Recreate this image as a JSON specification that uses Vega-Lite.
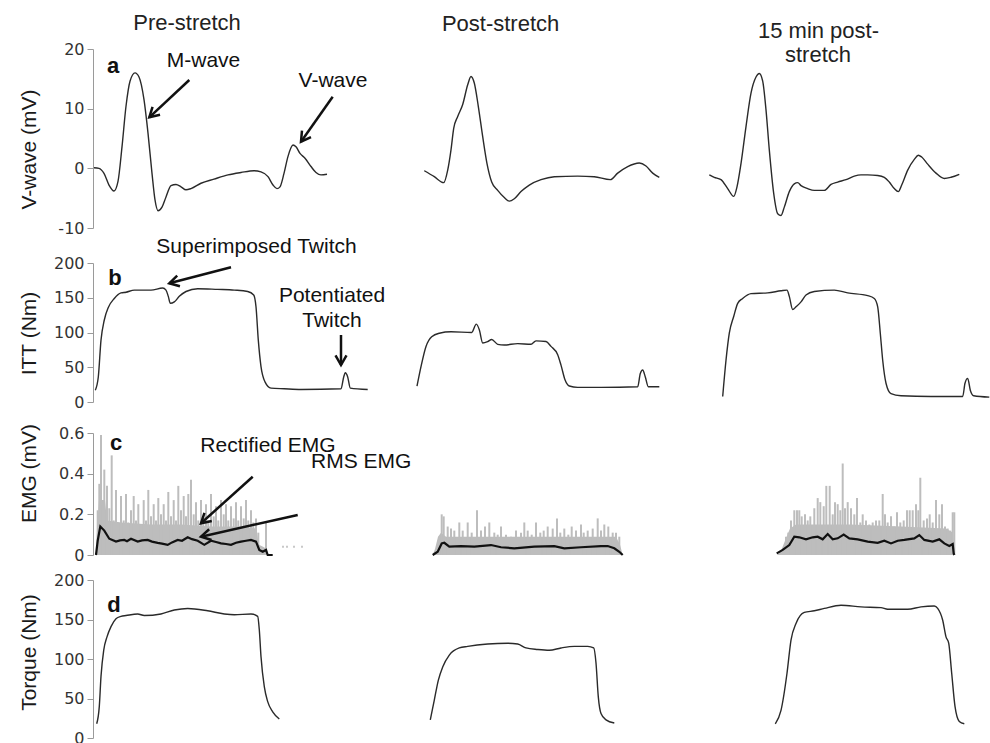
{
  "$schema": "https://vega.github.io/schema/vega-lite/v6.json",
  "padding": {"left": 17, "top": 12, "right": 0, "bottom": 0},
  "bounds": "flush",
  "spacing": 35,
  "config": {
    "view": {"stroke": null},
    "axis": {"domainColor": "#9a9a9a", "tickColor": "#9a9a9a", "domainWidth": 1, "tickWidth": 1, "tickSize": 6, "labelPadding": 3, "labelFont": "DejaVu Sans", "labelFontSize": 16, "labelColor": "#333333", "titleFont": "Liberation Sans", "titleFontSize": 21, "titleFontWeight": "normal", "titleColor": "#1a1a1a", "grid": false, "titleBaseline": "alphabetic", "titleX": -58}
  },
  "datasets": {
    "vwave": [
      {"panel":"pre","t":93,"v":0.1},{"panel":"pre","t":98,"v":0.0},{"panel":"pre","t":103,"v":-0.85},{"panel":"pre","t":108,"v":-2.8},{"panel":"pre","t":113,"v":-3.8},{"panel":"pre","t":117,"v":-2.2},{"panel":"pre","t":121,"v":3.6},{"panel":"pre","t":125,"v":10.4},{"panel":"pre","t":129,"v":14.6},{"panel":"pre","t":134,"v":16.0},{"panel":"pre","t":138,"v":15.3},{"panel":"pre","t":143,"v":11.5},{"panel":"pre","t":147,"v":5.9},{"panel":"pre","t":151,"v":-0.85},{"panel":"pre","t":154,"v":-5.3},{"panel":"pre","t":157,"v":-7.1},{"panel":"pre","t":161,"v":-6.5},{"panel":"pre","t":165,"v":-4.8},{"panel":"pre","t":170,"v":-2.9},{"panel":"pre","t":175,"v":-2.7},{"panel":"pre","t":180,"v":-3.1},{"panel":"pre","t":185,"v":-3.6},{"panel":"pre","t":190,"v":-3.4},{"panel":"pre","t":200,"v":-2.5},{"panel":"pre","t":213,"v":-1.8},{"panel":"pre","t":227,"v":-1.1},{"panel":"pre","t":240,"v":-0.7},{"panel":"pre","t":253,"v":-0.4},{"panel":"pre","t":260,"v":-0.6},{"panel":"pre","t":267,"v":-1.4},{"panel":"pre","t":272,"v":-2.8},{"panel":"pre","t":276,"v":-3.4},{"panel":"pre","t":279,"v":-3.1},{"panel":"pre","t":283,"v":-0.85},{"panel":"pre","t":287,"v":2.0},{"panel":"pre","t":292,"v":3.9},{"panel":"pre","t":295,"v":3.6},{"panel":"pre","t":299,"v":2.5},{"panel":"pre","t":304,"v":1.7},{"panel":"pre","t":310,"v":0.3},{"panel":"pre","t":315,"v":-0.7},{"panel":"pre","t":320,"v":-1.1},{"panel":"pre","t":326,"v":-1.0},
      {"panel":"post","t":423.3,"v":-0.4},{"panel":"post","t":433.3,"v":-1.4},{"panel":"post","t":442.7,"v":-2.4},{"panel":"post","t":446.7,"v":-0.3},{"panel":"post","t":450,"v":3.1},{"panel":"post","t":452.7,"v":6.7},{"panel":"post","t":456.7,"v":8.7},{"panel":"post","t":461.7,"v":10.7},{"panel":"post","t":466.7,"v":14.0},{"panel":"post","t":470,"v":15.4},{"panel":"post","t":473.3,"v":14.3},{"panel":"post","t":477.3,"v":10.4},{"panel":"post","t":481.7,"v":5.3},{"panel":"post","t":486,"v":0.8},{"panel":"post","t":490.7,"v":-2.3},{"panel":"post","t":496.7,"v":-3.7},{"panel":"post","t":503.3,"v":-4.9},{"panel":"post","t":508.3,"v":-5.5},{"panel":"post","t":513.3,"v":-5.1},{"panel":"post","t":520,"v":-3.9},{"panel":"post","t":528.3,"v":-2.8},{"panel":"post","t":540,"v":-1.9},{"panel":"post","t":553.3,"v":-1.4},{"panel":"post","t":576.7,"v":-1.3},{"panel":"post","t":593.3,"v":-1.4},{"panel":"post","t":609.3,"v":-1.9},{"panel":"post","t":616.7,"v":-0.8},{"panel":"post","t":626.7,"v":0.3},{"panel":"post","t":638.3,"v":0.9},{"panel":"post","t":645,"v":0.4},{"panel":"post","t":651.7,"v":-0.8},{"panel":"post","t":658.3,"v":-1.5},
      {"panel":"min15","t":708.3,"v":-1.1},{"panel":"min15","t":713.3,"v":-1.5},{"panel":"min15","t":720,"v":-1.9},{"panel":"min15","t":726.7,"v":-3.4},{"panel":"min15","t":732.7,"v":-4.7},{"panel":"min15","t":736,"v":-3.1},{"panel":"min15","t":740,"v":0.8},{"panel":"min15","t":745,"v":7.0},{"panel":"min15","t":750,"v":12.6},{"panel":"min15","t":755,"v":15.3},{"panel":"min15","t":758.3,"v":15.9},{"panel":"min15","t":761.7,"v":14.6},{"panel":"min15","t":765,"v":9.8},{"panel":"min15","t":768.3,"v":3.1},{"panel":"min15","t":772.7,"v":-4.2},{"panel":"min15","t":776.7,"v":-7.6},{"panel":"min15","t":780,"v":-7.9},{"panel":"min15","t":783.3,"v":-6.5},{"panel":"min15","t":788.3,"v":-3.9},{"panel":"min15","t":793.3,"v":-2.6},{"panel":"min15","t":796.7,"v":-2.4},{"panel":"min15","t":800,"v":-2.9},{"panel":"min15","t":806.7,"v":-3.4},{"panel":"min15","t":813.3,"v":-3.7},{"panel":"min15","t":823.3,"v":-3.7},{"panel":"min15","t":830,"v":-2.7},{"panel":"min15","t":836.7,"v":-2.3},{"panel":"min15","t":845,"v":-1.9},{"panel":"min15","t":853.3,"v":-1.3},{"panel":"min15","t":860,"v":-1.1},{"panel":"min15","t":866.7,"v":-1.1},{"panel":"min15","t":876.7,"v":-1.2},{"panel":"min15","t":883.3,"v":-1.5},{"panel":"min15","t":888.3,"v":-2.3},{"panel":"min15","t":893.3,"v":-3.4},{"panel":"min15","t":897.3,"v":-3.9},{"panel":"min15","t":900.7,"v":-2.8},{"panel":"min15","t":906.7,"v":-0.3},{"panel":"min15","t":913.3,"v":1.5},{"panel":"min15","t":917.3,"v":2.2},{"panel":"min15","t":920.7,"v":1.9},{"panel":"min15","t":926.7,"v":0.7},{"panel":"min15","t":935,"v":-0.8},{"panel":"min15","t":943.3,"v":-1.7},{"panel":"min15","t":950,"v":-1.5},{"panel":"min15","t":958.3,"v":-1.0}
    ],
    "itt": [
      {"panel":"pre","t":94.3,"v":17},{"panel":"pre","t":97.3,"v":36},{"panel":"pre","t":100,"v":89},{"panel":"pre","t":103.3,"v":118},{"panel":"pre","t":107.3,"v":136},{"panel":"pre","t":113.3,"v":149},{"panel":"pre","t":120,"v":157},{"panel":"pre","t":125,"v":158},{"panel":"pre","t":133.3,"v":161},{"panel":"pre","t":150,"v":161},{"panel":"pre","t":161.7,"v":164},{"panel":"pre","t":165,"v":161},{"panel":"pre","t":167.3,"v":152},{"panel":"pre","t":169.3,"v":142},{"panel":"pre","t":173.3,"v":144},{"panel":"pre","t":178.3,"v":152},{"panel":"pre","t":185,"v":159},{"panel":"pre","t":196.7,"v":163},{"panel":"pre","t":216.7,"v":162},{"panel":"pre","t":233.3,"v":161},{"panel":"pre","t":246.7,"v":159},{"panel":"pre","t":252.7,"v":154},{"panel":"pre","t":255,"v":137},{"panel":"pre","t":257.3,"v":89},{"panel":"pre","t":260,"v":51},{"panel":"pre","t":264,"v":29},{"panel":"pre","t":270,"v":20},{"panel":"pre","t":283.3,"v":19},{"panel":"pre","t":300,"v":18},{"panel":"pre","t":340,"v":19},{"panel":"pre","t":342.7,"v":36},{"panel":"pre","t":344.3,"v":42},{"panel":"pre","t":346.7,"v":36},{"panel":"pre","t":349.3,"v":20},{"panel":"pre","t":366.7,"v":18},
      {"panel":"post","t":416,"v":23},{"panel":"post","t":420,"v":51},{"panel":"post","t":425,"v":80},{"panel":"post","t":430.7,"v":94},{"panel":"post","t":438.3,"v":99},{"panel":"post","t":450,"v":101},{"panel":"post","t":470.7,"v":100},{"panel":"post","t":475.3,"v":112},{"panel":"post","t":478.3,"v":104},{"panel":"post","t":481.7,"v":85},{"panel":"post","t":486.7,"v":87},{"panel":"post","t":490.7,"v":90},{"panel":"post","t":496.7,"v":83},{"panel":"post","t":503.3,"v":82},{"panel":"post","t":516.7,"v":84},{"panel":"post","t":530,"v":83},{"panel":"post","t":535,"v":88},{"panel":"post","t":545,"v":87},{"panel":"post","t":550,"v":80},{"panel":"post","t":556.7,"v":68},{"panel":"post","t":560,"v":53},{"panel":"post","t":564,"v":32},{"panel":"post","t":568.3,"v":23},{"panel":"post","t":576.7,"v":21},{"panel":"post","t":600,"v":21},{"panel":"post","t":636.7,"v":22},{"panel":"post","t":639.3,"v":41},{"panel":"post","t":641.7,"v":46},{"panel":"post","t":644.3,"v":36},{"panel":"post","t":647.3,"v":22},{"panel":"post","t":658.3,"v":22},
      {"panel":"min15","t":721.7,"v":8},{"panel":"min15","t":725,"v":60},{"panel":"min15","t":728.3,"v":99},{"panel":"min15","t":732.7,"v":123},{"panel":"min15","t":736.7,"v":142},{"panel":"min15","t":741.7,"v":149},{"panel":"min15","t":750,"v":156},{"panel":"min15","t":766.7,"v":157},{"panel":"min15","t":780,"v":160},{"panel":"min15","t":786,"v":161},{"panel":"min15","t":788.3,"v":152},{"panel":"min15","t":791.7,"v":133},{"panel":"min15","t":795,"v":137},{"panel":"min15","t":800,"v":144},{"panel":"min15","t":805,"v":154},{"panel":"min15","t":813.3,"v":159},{"panel":"min15","t":833.3,"v":161},{"panel":"min15","t":846.7,"v":157},{"panel":"min15","t":866.7,"v":153},{"panel":"min15","t":873.3,"v":149},{"panel":"min15","t":876.7,"v":137},{"panel":"min15","t":879.3,"v":99},{"panel":"min15","t":881.7,"v":60},{"panel":"min15","t":885,"v":27},{"panel":"min15","t":890,"v":12},{"panel":"min15","t":900,"v":9},{"panel":"min15","t":930,"v":8},{"panel":"min15","t":961.7,"v":8},{"panel":"min15","t":964,"v":27},{"panel":"min15","t":966.7,"v":34},{"panel":"min15","t":969.3,"v":17},{"panel":"min15","t":972.7,"v":9},{"panel":"min15","t":988.3,"v":7}
    ],
    "torque": [
      {"panel":"pre","t":95.7,"v":18},{"panel":"pre","t":98.3,"v":40},{"panel":"pre","t":100,"v":78},{"panel":"pre","t":102.7,"v":111},{"panel":"pre","t":106,"v":128},{"panel":"pre","t":110,"v":141},{"panel":"pre","t":115,"v":151},{"panel":"pre","t":120,"v":154},{"panel":"pre","t":125,"v":155},{"panel":"pre","t":136.7,"v":157},{"panel":"pre","t":143.3,"v":155},{"panel":"pre","t":160,"v":157},{"panel":"pre","t":173.3,"v":162},{"panel":"pre","t":186.7,"v":164},{"panel":"pre","t":206.7,"v":161},{"panel":"pre","t":223.3,"v":157},{"panel":"pre","t":233.3,"v":156},{"panel":"pre","t":250,"v":157},{"panel":"pre","t":256.7,"v":154},{"panel":"pre","t":258.3,"v":137},{"panel":"pre","t":260,"v":103},{"panel":"pre","t":263.3,"v":65},{"panel":"pre","t":266.7,"v":46},{"panel":"pre","t":271.7,"v":33},{"panel":"pre","t":278.3,"v":24},
      {"panel":"post","t":429.3,"v":23},{"panel":"post","t":433.3,"v":48},{"panel":"post","t":437.3,"v":73},{"panel":"post","t":441.7,"v":90},{"panel":"post","t":448.3,"v":105},{"panel":"post","t":458.3,"v":114},{"panel":"post","t":466.7,"v":116},{"panel":"post","t":486.7,"v":119},{"panel":"post","t":506.7,"v":120},{"panel":"post","t":516.7,"v":119},{"panel":"post","t":525,"v":114},{"panel":"post","t":536.7,"v":112},{"panel":"post","t":548.3,"v":111},{"panel":"post","t":560,"v":114},{"panel":"post","t":573.3,"v":116},{"panel":"post","t":586.7,"v":116},{"panel":"post","t":592.7,"v":114},{"panel":"post","t":595,"v":95},{"panel":"post","t":597.3,"v":52},{"panel":"post","t":600,"v":31},{"panel":"post","t":605,"v":23},{"panel":"post","t":613.3,"v":19},
      {"panel":"min15","t":774.3,"v":18},{"panel":"min15","t":780,"v":35},{"panel":"min15","t":786,"v":82},{"panel":"min15","t":790,"v":124},{"panel":"min15","t":795,"v":145},{"panel":"min15","t":803.3,"v":159},{"panel":"min15","t":813.3,"v":161},{"panel":"min15","t":823.3,"v":164},{"panel":"min15","t":840,"v":168},{"panel":"min15","t":860,"v":166},{"panel":"min15","t":880,"v":165},{"panel":"min15","t":886.7,"v":163},{"panel":"min15","t":906.7,"v":163},{"panel":"min15","t":920,"v":166},{"panel":"min15","t":933.3,"v":167},{"panel":"min15","t":936.7,"v":164},{"panel":"min15","t":941.7,"v":149},{"panel":"min15","t":945,"v":128},{"panel":"min15","t":947.7,"v":120},{"panel":"min15","t":950.7,"v":82},{"panel":"min15","t":954,"v":40},{"panel":"min15","t":958.3,"v":21},{"panel":"min15","t":963.3,"v":18}
    ],
    "rms": [
      {"panel":"pre","t":95,"v":0},{"panel":"pre","t":96.7,"v":0.07},{"panel":"pre","t":99.3,"v":0.14},{"panel":"pre","t":103.3,"v":0.12},{"panel":"pre","t":108.3,"v":0.08},{"panel":"pre","t":115,"v":0.066},{"panel":"pre","t":119,"v":0.072},{"panel":"pre","t":123.3,"v":0.074},{"panel":"pre","t":126,"v":0.068},{"panel":"pre","t":130,"v":0.08},{"panel":"pre","t":136.7,"v":0.066},{"panel":"pre","t":141,"v":0.072},{"panel":"pre","t":146.7,"v":0.074},{"panel":"pre","t":151,"v":0.066},{"panel":"pre","t":156.7,"v":0.06},{"panel":"pre","t":161,"v":0.056},{"panel":"pre","t":166.7,"v":0.05},{"panel":"pre","t":171,"v":0.062},{"panel":"pre","t":176.7,"v":0.074},{"panel":"pre","t":181,"v":0.07},{"panel":"pre","t":186.7,"v":0.087},{"panel":"pre","t":191,"v":0.078},{"panel":"pre","t":196.7,"v":0.07},{"panel":"pre","t":203.3,"v":0.05},{"panel":"pre","t":210,"v":0.07},{"panel":"pre","t":215,"v":0.064},{"panel":"pre","t":220,"v":0.057},{"panel":"pre","t":225,"v":0.054},{"panel":"pre","t":230,"v":0.05},{"panel":"pre","t":235,"v":0.06},{"panel":"pre","t":240,"v":0.066},{"panel":"pre","t":245,"v":0.07},{"panel":"pre","t":250,"v":0.074},{"panel":"pre","t":255,"v":0.066},{"panel":"pre","t":258.3,"v":0.025},{"panel":"pre","t":261.7,"v":0.016},{"panel":"pre","t":265,"v":0.025},{"panel":"pre","t":266.7,"v":0},{"panel":"pre","t":271.7,"v":0},
      {"panel":"post","t":431.7,"v":0},{"panel":"post","t":436.7,"v":0.016},{"panel":"post","t":440.7,"v":0.057},{"panel":"post","t":443.3,"v":0.06},{"panel":"post","t":448.3,"v":0.041},{"panel":"post","t":460,"v":0.044},{"panel":"post","t":473.3,"v":0.041},{"panel":"post","t":490,"v":0.049},{"panel":"post","t":500,"v":0.038},{"panel":"post","t":513.3,"v":0.033},{"panel":"post","t":533.3,"v":0.041},{"panel":"post","t":553.3,"v":0.044},{"panel":"post","t":563.3,"v":0.033},{"panel":"post","t":580,"v":0.038},{"panel":"post","t":600,"v":0.044},{"panel":"post","t":606.7,"v":0.044},{"panel":"post","t":613.3,"v":0.033},{"panel":"post","t":618.3,"v":0.016},{"panel":"post","t":621.7,"v":0},
      {"panel":"min15","t":775.7,"v":0.008},{"panel":"min15","t":781.7,"v":0.025},{"panel":"min15","t":788.3,"v":0.049},{"panel":"min15","t":793.3,"v":0.09},{"panel":"min15","t":798.3,"v":0.087},{"panel":"min15","t":805,"v":0.077},{"panel":"min15","t":811.7,"v":0.087},{"panel":"min15","t":816.7,"v":0.09},{"panel":"min15","t":821.7,"v":0.077},{"panel":"min15","t":826.7,"v":0.103},{"panel":"min15","t":831.7,"v":0.077},{"panel":"min15","t":836.7,"v":0.082},{"panel":"min15","t":842.7,"v":0.1},{"panel":"min15","t":848.3,"v":0.082},{"panel":"min15","t":856.7,"v":0.077},{"panel":"min15","t":866.7,"v":0.066},{"panel":"min15","t":876.7,"v":0.06},{"panel":"min15","t":883.3,"v":0.07},{"panel":"min15","t":890,"v":0.057},{"panel":"min15","t":896.7,"v":0.07},{"panel":"min15","t":903.3,"v":0.074},{"panel":"min15","t":913.3,"v":0.082},{"panel":"min15","t":918.3,"v":0.098},{"panel":"min15","t":923.3,"v":0.074},{"panel":"min15","t":931.7,"v":0.066},{"panel":"min15","t":938.3,"v":0.077},{"panel":"min15","t":943.3,"v":0.057},{"panel":"min15","t":948.3,"v":0.044},{"panel":"min15","t":951.7,"v":0.054},{"panel":"min15","t":952.7,"v":0.008},{"panel":"min15","t":953.3,"v":0}
    ],
    "emgBase": [
      {"panel":"pre","t":95,"v":0},{"panel":"pre","t":96,"v":0.12},{"panel":"pre","t":98,"v":0.27},{"panel":"pre","t":104,"v":0.27},{"panel":"pre","t":106,"v":0.17},{"panel":"pre","t":120,"v":0.16},{"panel":"pre","t":150,"v":0.15},{"panel":"pre","t":180,"v":0.15},{"panel":"pre","t":210,"v":0.14},{"panel":"pre","t":240,"v":0.14},{"panel":"pre","t":255,"v":0.13},{"panel":"pre","t":258,"v":0.05},{"panel":"pre","t":262,"v":0.04},{"panel":"pre","t":266,"v":0.03},{"panel":"pre","t":267,"v":0},
      {"panel":"post","t":431.7,"v":0},{"panel":"post","t":434,"v":0.03},{"panel":"post","t":437,"v":0.09},{"panel":"post","t":440,"v":0.11},{"panel":"post","t":445,"v":0.09},{"panel":"post","t":500,"v":0.09},{"panel":"post","t":560,"v":0.09},{"panel":"post","t":615,"v":0.09},{"panel":"post","t":619,"v":0.05},{"panel":"post","t":621.7,"v":0},
      {"panel":"min15","t":776,"v":0},{"panel":"min15","t":780,"v":0.02},{"panel":"min15","t":784,"v":0.07},{"panel":"min15","t":789,"v":0.13},{"panel":"min15","t":795,"v":0.15},{"panel":"min15","t":850,"v":0.15},{"panel":"min15","t":900,"v":0.14},{"panel":"min15","t":945,"v":0.13},{"panel":"min15","t":952,"v":0.11},{"panel":"min15","t":953.3,"v":0}
    ],
    "emgSpike": [
      {"t":96.7,"v":0.22},{"t":98.3,"v":0.35},{"t":100,"v":0.59},{"t":101.7,"v":0.25},{"t":103.3,"v":0.42},{"t":106,"v":0.34},{"t":108.3,"v":0.23},{"t":110.7,"v":0.49},{"t":112.7,"v":0.17},{"t":115,"v":0.32},{"t":117.3,"v":0.16},{"t":120,"v":0.29},{"t":122.7,"v":0.17},{"t":125,"v":0.3},{"t":127.3,"v":0.16},{"t":130,"v":0.22},{"t":132.7,"v":0.29},{"t":135,"v":0.17},{"t":137.3,"v":0.25},{"t":140,"v":0.14},{"t":142.7,"v":0.27},{"t":145,"v":0.17},{"t":147.3,"v":0.32},{"t":150,"v":0.19},{"t":152.7,"v":0.25},{"t":155,"v":0.17},{"t":157.3,"v":0.28},{"t":160,"v":0.2},{"t":162.7,"v":0.25},{"t":165,"v":0.17},{"t":167.3,"v":0.31},{"t":170,"v":0.19},{"t":172.7,"v":0.27},{"t":175,"v":0.17},{"t":177.3,"v":0.34},{"t":180,"v":0.22},{"t":182.7,"v":0.29},{"t":185,"v":0.19},{"t":187.3,"v":0.3},{"t":190,"v":0.37},{"t":192.7,"v":0.2},{"t":195,"v":0.26},{"t":197.3,"v":0.17},{"t":200,"v":0.27},{"t":202.3,"v":0.19},{"t":205,"v":0.25},{"t":207.3,"v":0.17},{"t":210,"v":0.3},{"t":212.7,"v":0.19},{"t":215,"v":0.24},{"t":217.3,"v":0.17},{"t":220,"v":0.27},{"t":222.7,"v":0.2},{"t":225,"v":0.25},{"t":227.3,"v":0.17},{"t":230,"v":0.24},{"t":232.7,"v":0.18},{"t":235,"v":0.26},{"t":237.3,"v":0.17},{"t":240,"v":0.24},{"t":242.7,"v":0.18},{"t":245,"v":0.27},{"t":247.3,"v":0.17},{"t":250,"v":0.22},{"t":252.3,"v":0.16},{"t":255,"v":0.18},{"t":257.3,"v":0.11},{"t":260,"v":0.04},{"t":265,"v":0.16},
      {"t":440.7,"v":0.2},{"t":442.7,"v":0.19},{"t":446.7,"v":0.14},{"t":450,"v":0.13},{"t":453.3,"v":0.12},{"t":458.3,"v":0.16},{"t":461.7,"v":0.12},{"t":466.7,"v":0.16},{"t":470.7,"v":0.11},{"t":476,"v":0.22},{"t":480,"v":0.12},{"t":484,"v":0.14},{"t":488.3,"v":0.16},{"t":493.3,"v":0.11},{"t":496.7,"v":0.1},{"t":500,"v":0.14},{"t":505,"v":0.1},{"t":510,"v":0.09},{"t":515,"v":0.12},{"t":520,"v":0.11},{"t":523.3,"v":0.16},{"t":526.7,"v":0.12},{"t":530.7,"v":0.1},{"t":535,"v":0.16},{"t":539.3,"v":0.11},{"t":542.7,"v":0.12},{"t":546.7,"v":0.14},{"t":551.7,"v":0.13},{"t":556,"v":0.18},{"t":559.3,"v":0.11},{"t":563.3,"v":0.13},{"t":567.3,"v":0.1},{"t":570.7,"v":0.14},{"t":575,"v":0.12},{"t":580,"v":0.15},{"t":582.7,"v":0.11},{"t":586.7,"v":0.12},{"t":591.7,"v":0.13},{"t":596.7,"v":0.18},{"t":600,"v":0.12},{"t":603.3,"v":0.15},{"t":607.3,"v":0.14},{"t":611.7,"v":0.11},{"t":615,"v":0.11},{"t":618.3,"v":0.09},
      {"t":780,"v":0.02},{"t":785,"v":0.09},{"t":787.3,"v":0.11},{"t":790,"v":0.17},{"t":793.3,"v":0.22},{"t":796,"v":0.22},{"t":798.3,"v":0.22},{"t":800.7,"v":0.19},{"t":804,"v":0.2},{"t":806.7,"v":0.17},{"t":809.3,"v":0.19},{"t":813.3,"v":0.23},{"t":816.7,"v":0.28},{"t":819.3,"v":0.26},{"t":822.7,"v":0.24},{"t":825.3,"v":0.34},{"t":828.7,"v":0.34},{"t":831.7,"v":0.2},{"t":834,"v":0.26},{"t":836.7,"v":0.25},{"t":839.3,"v":0.22},{"t":841.7,"v":0.45},{"t":844,"v":0.23},{"t":846.7,"v":0.26},{"t":850,"v":0.23},{"t":853.3,"v":0.2},{"t":856,"v":0.28},{"t":859.3,"v":0.16},{"t":861.7,"v":0.2},{"t":865,"v":0.17},{"t":868.3,"v":0.15},{"t":871.7,"v":0.16},{"t":875,"v":0.17},{"t":878.3,"v":0.17},{"t":881.7,"v":0.3},{"t":884,"v":0.2},{"t":886.7,"v":0.16},{"t":890,"v":0.19},{"t":893.3,"v":0.14},{"t":896,"v":0.21},{"t":899.3,"v":0.16},{"t":902.7,"v":0.17},{"t":906,"v":0.22},{"t":908.7,"v":0.22},{"t":911.7,"v":0.22},{"t":915,"v":0.25},{"t":917.3,"v":0.22},{"t":919.3,"v":0.38},{"t":922.7,"v":0.17},{"t":926,"v":0.18},{"t":928.7,"v":0.2},{"t":931.7,"v":0.16},{"t":935,"v":0.27},{"t":938.3,"v":0.2},{"t":941,"v":0.25},{"t":944,"v":0.14},{"t":946.7,"v":0.13},{"t":949.3,"v":0.12},{"t":951.7,"v":0.21},{"t":953.3,"v":0.21}
    ],
    "emgDots": [
      {"t":282,"v":0.04},{"t":286,"v":0.04},{"t":293,"v":0.04},{"t":301,"v":0.04}
    ],
    "labelsA": [
      {"kind":"title","label":"Pre-stretch","t":186,"v":23.18},
      {"kind":"title","label":"Post-stretch","t":499.6,"v":23.0},
      {"kind":"title","label":"15 min post-","t":817.5,"v":21.8},
      {"kind":"title","label":"stretch","t":817,"v":17.87},
      {"kind":"letter","label":"a","t":112,"v":15.93},
      {"kind":"note","label":"M-wave","t":202.5,"v":17.03},
      {"kind":"note","label":"V-wave","t":332,"v":13.58}
    ],
    "arrowsA": [
      {"id":"M","t0":188.3,"v0":14.8,"t":148.3,"v":8.55},
      {"id":"V","t0":331.7,"v0":12.0,"t":300,"v":4.46}
    ],
    "labelsB": [
      {"kind":"letter","label":"b","t":114,"v":168.3},
      {"kind":"note","label":"Superimposed Twitch","t":255.5,"v":214.4},
      {"kind":"note","label":"Potentiated","t":331,"v":144.3},
      {"kind":"note","label":"Twitch","t":331,"v":108.3}
    ],
    "arrowsB": [
      {"id":"S","t0":230,"v0":193.8,"t":168.3,"v":170.8},
      {"id":"P","t0":340,"v0":96.4,"t":340,"v":53.2}
    ],
    "labelsC": [
      {"kind":"letter","label":"c","t":115,"v":0.516},
      {"kind":"note","label":"Rectified EMG","t":267,"v":0.508},
      {"kind":"noteL","label":"RMS EMG","t":310,"v":0.426}
    ],
    "arrowsC": [
      {"id":"R","t0":251.7,"v0":0.385,"t":200,"v":0.156},
      {"id":"Q","t0":296.7,"v0":0.197,"t":200,"v":0.09}
    ],
    "labelsD": [
      {"kind":"letter","label":"d","t":113,"v":159.9}
    ]
  },
  "vconcat": [
    {
      "width": 898, "height": 179,
      "encoding": {
        "x": {"field":"t","type":"quantitative","scale":{"domain":[92,990],"nice":false,"zero":false},"axis":null},
        "y": {"field":"v","type":"quantitative","scale":{"domain":[-10,20],"nice":false,"zero":false},"axis":{"values":[-10,0,10,20],"labelExpr":"'' + datum.value","title":"V-wave (mV)","titleY":100}}
      },
      "layer": [
        {"data":{"name":"vwave"},"mark":{"type":"line","color":"#2a2a2a","strokeWidth":1.4,"interpolate":"monotone"},"encoding":{"detail":{"field":"panel"}}},
        {"data":{"name":"labelsA"},"transform":[{"filter":"datum.kind === 'title'"}],"mark":{"type":"text","font":"Liberation Sans","fontSize":22,"align":"center","baseline":"alphabetic","color":"#222222"},"encoding":{"text":{"field":"label"}}},
        {"data":{"name":"labelsA"},"transform":[{"filter":"datum.kind === 'note'"}],"mark":{"type":"text","font":"Liberation Sans","fontSize":21,"align":"center","baseline":"alphabetic","color":"#111111"},"encoding":{"text":{"field":"label"}}},
        {"data":{"name":"labelsA"},"transform":[{"filter":"datum.kind === 'letter'"}],"mark":{"type":"text","font":"Liberation Sans","fontSize":22,"fontWeight":"bold","align":"center","baseline":"alphabetic","color":"#111111"},"encoding":{"text":{"field":"label"}}},
        {"data":{"name":"arrowsA"},"mark":{"type":"rule","color":"#111111","strokeWidth":2.5},"encoding":{"x2":{"field":"t0"},"y2":{"field":"v0"}}},
        {"data":{"name":"arrowsA"},"transform":[{"filter":"datum.id === 'M'"}],"mark":{"type":"point","shape":"M-0.5,0.87L0,0L0.5,0.87","filled":false,"color":"#111111","strokeWidth":2.5,"size":484,"angle":227,"opacity":1}},
        {"data":{"name":"arrowsA"},"transform":[{"filter":"datum.id === 'V'"}],"mark":{"type":"point","shape":"M-0.5,0.87L0,0L0.5,0.87","filled":false,"color":"#111111","strokeWidth":2.5,"size":484,"angle":215,"opacity":1}}
      ]
    },
    {
      "bounds": "flush",
      "spacing": 31,
      "vconcat": [
        {
          "width": 898, "height": 139,
          "encoding": {
            "x": {"field":"t","type":"quantitative","scale":{"domain":[92,990],"nice":false,"zero":false},"axis":null},
            "y": {"field":"v","type":"quantitative","scale":{"domain":[0,200],"nice":false,"zero":false},"axis":{"values":[0,50,100,150,200],"title":"ITT (Nm)","titleY":70}}
          },
          "layer": [
            {"data":{"name":"itt"},"mark":{"type":"line","color":"#2a2a2a","strokeWidth":1.4,"interpolate":"monotone"},"encoding":{"detail":{"field":"panel"}}},
            {"data":{"name":"labelsB"},"transform":[{"filter":"datum.kind === 'note'"}],"mark":{"type":"text","font":"Liberation Sans","fontSize":21,"align":"center","baseline":"alphabetic","color":"#111111"},"encoding":{"text":{"field":"label"}}},
            {"data":{"name":"labelsB"},"transform":[{"filter":"datum.kind === 'letter'"}],"mark":{"type":"text","font":"Liberation Sans","fontSize":22,"fontWeight":"bold","align":"center","baseline":"alphabetic","color":"#111111"},"encoding":{"text":{"field":"label"}}},
            {"data":{"name":"arrowsB"},"mark":{"type":"rule","color":"#111111","strokeWidth":2.5},"encoding":{"x2":{"field":"t0"},"y2":{"field":"v0"}}},
            {"data":{"name":"arrowsB"},"transform":[{"filter":"datum.id === 'S'"}],"mark":{"type":"point","shape":"M-0.5,0.87L0,0L0.5,0.87","filled":false,"color":"#111111","strokeWidth":2.5,"size":484,"angle":255.5,"opacity":1}},
            {"data":{"name":"arrowsB"},"transform":[{"filter":"datum.id === 'P'"}],"mark":{"type":"point","shape":"M-0.5,0.87L0,0L0.5,0.87","filled":false,"color":"#111111","strokeWidth":2.5,"size":484,"angle":180,"opacity":1}}
          ]
        },
        {
          "bounds": "flush",
          "spacing": 25,
          "vconcat": [
            {
              "width": 898, "height": 122,
              "encoding": {
                "x": {"field":"t","type":"quantitative","scale":{"domain":[92,990],"nice":false,"zero":false},"axis":null},
                "y": {"field":"v","type":"quantitative","scale":{"domain":[0,0.6],"nice":false,"zero":false},"axis":{"values":[0,0.2,0.4,0.6],"labelExpr":"datum.value === 0 ? '0' : format(datum.value, '.1f')","title":"EMG (mV)","titleY":40}}
              },
              "layer": [
                {"data":{"name":"emgBase"},"mark":{"type":"area","color":"#bdbdbd","opacity":1},"encoding":{"detail":{"field":"panel"},"y2":{"datum":0}}},
                {"data":{"name":"emgSpike"},"mark":{"type":"rule","color":"#bdbdbd","strokeWidth":2},"encoding":{"y2":{"datum":0}}},
                {"data":{"name":"emgDots"},"mark":{"type":"point","shape":"square","filled":true,"color":"#c8c8c8","size":4,"opacity":1}},
                {"data":{"name":"rms"},"mark":{"type":"line","color":"#111111","strokeWidth":2.2},"encoding":{"detail":{"field":"panel"}}},
                {"data":{"name":"labelsC"},"transform":[{"filter":"datum.kind === 'note'"}],"mark":{"type":"text","font":"Liberation Sans","fontSize":21,"align":"center","baseline":"alphabetic","color":"#111111"},"encoding":{"text":{"field":"label"}}},
                {"data":{"name":"labelsC"},"transform":[{"filter":"datum.kind === 'noteL'"}],"mark":{"type":"text","font":"Liberation Sans","fontSize":21,"align":"left","baseline":"alphabetic","color":"#111111"},"encoding":{"text":{"field":"label"}}},
                {"data":{"name":"labelsC"},"transform":[{"filter":"datum.kind === 'letter'"}],"mark":{"type":"text","font":"Liberation Sans","fontSize":22,"fontWeight":"bold","align":"center","baseline":"alphabetic","color":"#111111"},"encoding":{"text":{"field":"label"}}},
                {"data":{"name":"arrowsC"},"mark":{"type":"rule","color":"#111111","strokeWidth":2.5},"encoding":{"x2":{"field":"t0"},"y2":{"field":"v0"}}},
                {"data":{"name":"arrowsC"},"transform":[{"filter":"datum.id === 'R'"}],"mark":{"type":"point","shape":"M-0.5,0.87L0,0L0.5,0.87","filled":false,"color":"#111111","strokeWidth":2.5,"size":484,"angle":228,"opacity":1}},
                {"data":{"name":"arrowsC"},"transform":[{"filter":"datum.id === 'Q'"}],"mark":{"type":"point","shape":"M-0.5,0.87L0,0L0.5,0.87","filled":false,"color":"#111111","strokeWidth":2.5,"size":484,"angle":257.4,"opacity":1}}
              ]
            },
            {
              "width": 898, "height": 158,
              "encoding": {
                "x": {"field":"t","type":"quantitative","scale":{"domain":[92,990],"nice":false,"zero":false},"axis":null},
                "y": {"field":"v","type":"quantitative","scale":{"domain":[0,200],"nice":false,"zero":false},"axis":{"values":[0,50,100,150,200],"title":"Torque (Nm)","titleY":72}}
              },
              "layer": [
                {"data":{"name":"torque"},"mark":{"type":"line","color":"#2a2a2a","strokeWidth":1.4,"interpolate":"monotone"},"encoding":{"detail":{"field":"panel"}}},
                {"data":{"name":"labelsD"},"mark":{"type":"text","font":"Liberation Sans","fontSize":22,"fontWeight":"bold","align":"center","baseline":"alphabetic","color":"#111111"},"encoding":{"text":{"field":"label"}}}
              ]
            }
          ]
        }
      ]
    }
  ]
}
